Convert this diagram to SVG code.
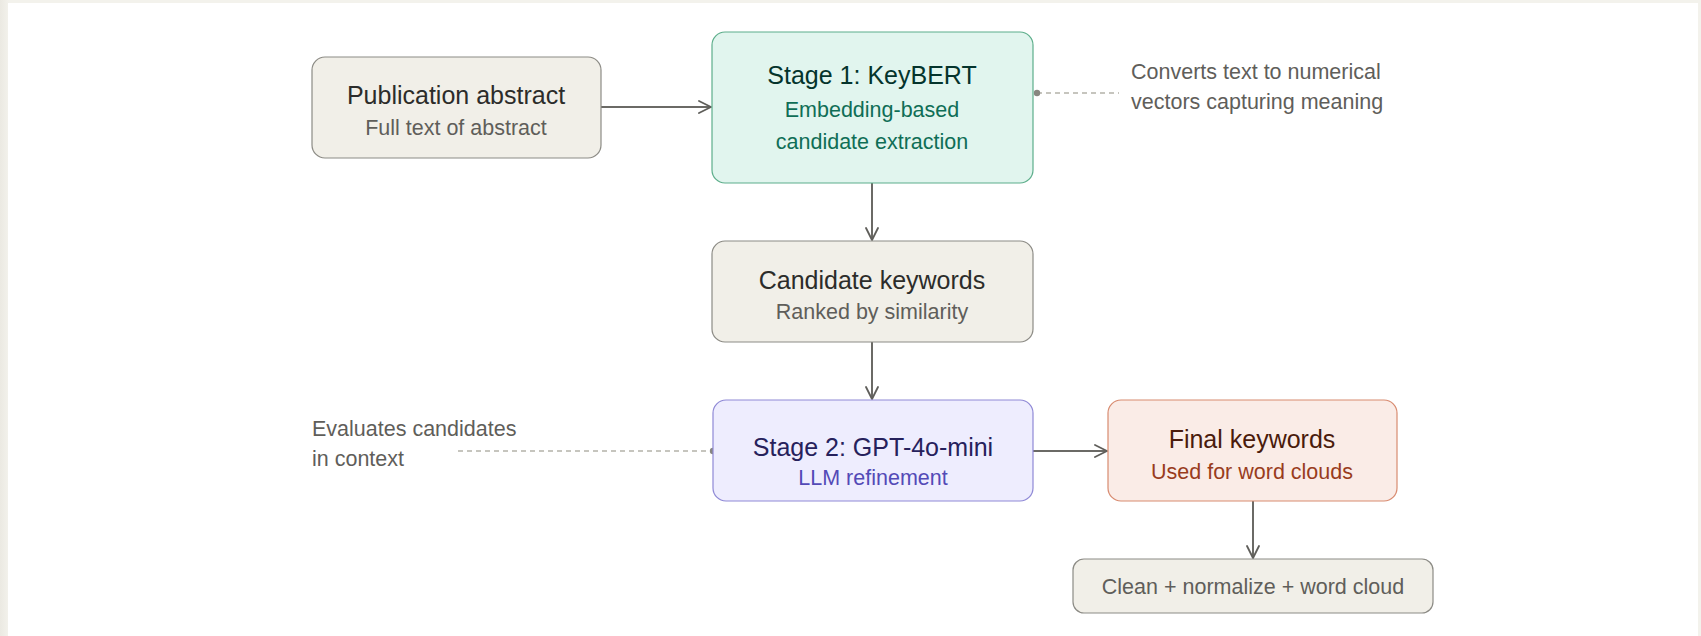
<svg xmlns="http://www.w3.org/2000/svg" width="1701" height="636" viewBox="0 0 1701 636">
<defs>
<linearGradient id="edge" x1="0" y1="0" x2="1" y2="0">
<stop offset="0" stop-color="#ebe9e2"/>
<stop offset="1" stop-color="#f3f2ec"/>
</linearGradient>
<marker id="arr" viewBox="0 0 14 14" refX="13" refY="7" markerWidth="14" markerHeight="14" markerUnits="userSpaceOnUse" orient="auto">
<path d="M1,1 L13,7 L1,13" fill="none" stroke="#5f5e5a" stroke-width="1.8" stroke-linecap="round" stroke-linejoin="round"/>
</marker>
<style>
text{font-family:"Liberation Sans",Arial,sans-serif;}
.t{font-size:25px;text-anchor:middle;}
.s{font-size:21.5px;text-anchor:middle;}
.note{font-size:21.5px;fill:#5f5e5a;}
.gray rect{fill:#f1efe8;stroke:#8c8b85;stroke-width:1.2;}
.gray .t{fill:#2c2c2a;}
.gray .s{fill:#5f5e5a;}
.green rect{fill:#e1f5ee;stroke:#5dae8b;stroke-width:1.2;}
.green .t{fill:#04342c;}
.green .s{fill:#0f6e56;}
.purple rect{fill:#eeedfe;stroke:#8f89d6;stroke-width:1.2;}
.purple .t{fill:#26215c;}
.purple .s{fill:#534ab7;}
.red rect{fill:#faece7;stroke:#d88b70;stroke-width:1.2;}
.red .t{fill:#4a1b0c;}
.red .s{fill:#993c1d;}
.line{stroke:#6b6a66;stroke-width:2;fill:none;}
.dash{stroke:#b4b2a9;stroke-width:1.3;stroke-dasharray:5 4;fill:none;}
.dot{fill:#888780;}
</style>
</defs>
<rect x="0" y="0" width="1701" height="636" fill="#f3f2ec"/>
<rect x="0" y="0" width="9" height="636" fill="url(#edge)"/>
<rect x="8" y="3" width="1690" height="633" fill="#ffffff"/>

<g id="connectors">
<line class="line" x1="601" y1="107" x2="711" y2="107" marker-end="url(#arr)"/>
<line class="line" x1="872" y1="183" x2="872" y2="240" marker-end="url(#arr)"/>
<line class="line" x1="872" y1="342" x2="872" y2="399" marker-end="url(#arr)"/>
<line class="line" x1="1033" y1="451" x2="1107" y2="451" marker-end="url(#arr)"/>
<line class="line" x1="1253" y1="501" x2="1253" y2="558" marker-end="url(#arr)"/>
<line class="dash" x1="1037" y1="93" x2="1119" y2="93"/>
<circle class="dot" cx="1037" cy="93" r="3.2"/>
<line class="dash" x1="458" y1="451" x2="713" y2="451"/>
<circle class="dot" cx="713" cy="451" r="3.2"/>
</g>

<g id="abstract" class="gray">
<rect x="312" y="57" width="289" height="101" rx="13"/>
<text class="t" x="456" y="104">Publication abstract</text>
<text class="s" x="456" y="135">Full text of abstract</text>
</g>

<g id="stage1" class="green">
<rect x="712" y="32" width="321" height="151" rx="13"/>
<text class="t" x="872" y="84">Stage 1: KeyBERT</text>
<text class="s" x="872" y="117">Embedding-based</text>
<text class="s" x="872" y="149">candidate extraction</text>
</g>

<g id="note1">
<text class="note" x="1131" y="79">Converts text to numerical</text>
<text class="note" x="1131" y="109">vectors capturing meaning</text>
</g>

<g id="candidates" class="gray">
<rect x="712" y="241" width="321" height="101" rx="13"/>
<text class="t" x="872" y="289">Candidate keywords</text>
<text class="s" x="872" y="319">Ranked by similarity</text>
</g>

<g id="stage2" class="purple">
<rect x="713" y="400" width="320" height="101" rx="13"/>
<text class="t" x="873" y="456">Stage 2: GPT-4o-mini</text>
<text class="s" x="873" y="485">LLM refinement</text>
</g>

<g id="note2">
<text class="note" x="312" y="436">Evaluates candidates</text>
<text class="note" x="312" y="466">in context</text>
</g>

<g id="final" class="red">
<rect x="1108" y="400" width="289" height="101" rx="13"/>
<text class="t" x="1252" y="448">Final keywords</text>
<text class="s" x="1252" y="479">Used for word clouds</text>
</g>

<g id="clean" class="gray">
<rect x="1073" y="559" width="360" height="54" rx="11"/>
<text class="s" x="1253" y="594" style="fill:#5f5e5a">Clean + normalize + word cloud</text>
</g>
</svg>
